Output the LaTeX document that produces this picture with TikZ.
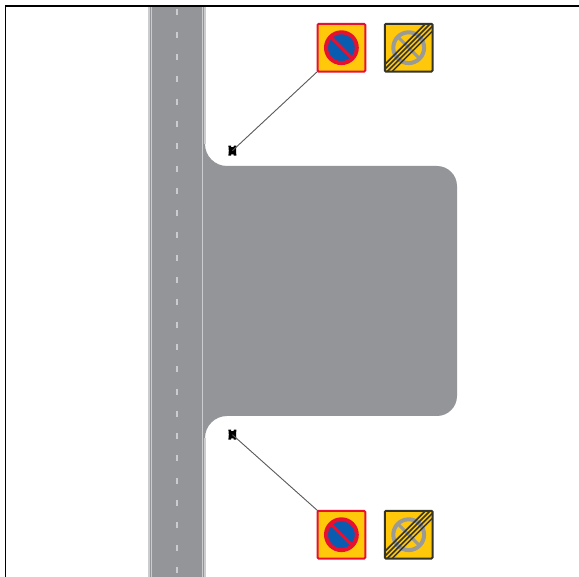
\documentclass[tikz,border=0pt]{standalone}
\definecolor{roadgrey}{HTML}{939598}
\definecolor{edgegrey}{HTML}{CBCCCE}
\definecolor{signyellow}{HTML}{FFC80A}
\definecolor{signred}{HTML}{E8102F}
\definecolor{signblue}{HTML}{0A5CB0}
\definecolor{signdark}{HTML}{34342A}
\definecolor{ringgrey}{HTML}{9A9A96}
\tikzset{
  parksign/.pic={
    \draw[signred,line width=2,fill=signyellow,rounded corners=1.2] (-23.9,-23.9) rectangle (23.9,23.9);
    \draw[signred,line width=4,fill=signblue] (0,0) circle (15.4);
    \draw[signred,line width=3] (-10.7,-10.7) -- (10.7,10.7);
  },
  endsign/.pic={
    \draw[signdark,line width=2,fill=signyellow,rounded corners=1.2] (-23.9,-23.9) rectangle (23.9,23.9);
    \draw[ringgrey,line width=4] (0,0) circle (15.4);
    \draw[ringgrey,line width=3] (-10.7,-10.7) -- (10.7,10.7);
    \begin{scope}
      \clip (-24,-24) rectangle (24,24);
      \foreach \d in {-3.6,-1.2,1.2,3.6}
        \draw[signdark,line width=1.5] (-24+\d,24+\d) -- (24+\d,-24+\d);
    \end{scope}
  },
  postmark/.pic={
    \fill[black] (-4,-5) -- (-1.4,-5) -- (-1.2,-3.6) -- (1.2,-3.6) -- (1.4,-5) -- (4,-5) -- (3.6,0) -- (4,5) -- (1.4,5) -- (1.2,3.6) -- (-1.2,3.6) -- (-1.4,5) -- (-4,5) -- (-3.6,0) -- cycle;
  },
  framerule/.style={black,line cap=butt},
  connector/.style={draw=black!65,line width=0.9},
  dashmark/.style={edgegrey,line width=1.4}
}
\begin{document}
\begin{tikzpicture}[x=1pt,y=-1pt]
\useasboundingbox (0,0) rectangle (579,577);
\fill[white] (0,0) rectangle (579,577);
% paved area
\fill[roadgrey] (149,6) -- (205,6) -- (205,144) .. controls (205,156.15) and (214.85,166) .. (227,166)
  -- (437,166) .. controls (448,166) and (457,175) .. (457,186)
  -- (457,396) .. controls (457,407) and (448,416) .. (437,416)
  -- (227,416) .. controls (214.85,416) and (205,425.85) .. (205,438)
  -- (205,577) -- (149,577) -- cycle;
% edge lines
\draw[edgegrey,line width=1.4] (148.8,6) -- (148.8,577);
\draw[edgegrey,line width=1.4] (151.7,6) -- (151.7,577);
\draw[edgegrey,line width=1.4] (205,6) -- (205,144);
\draw[edgegrey,line width=1.4] (205,438) -- (205,577);
\draw[edgegrey,line width=1.4] (202.2,6) -- (202.2,577);
\foreach \i in {0,...,25}
  \draw[dashmark] (177,{9.5+22.3*\i}) -- (177,{15.5+22.3*\i});
% frame
\draw[framerule,line width=1.8] (5,6) -- (579,6);
\draw[framerule,line width=1] (5.5,6) -- (5.5,577);
% signs
\path (341.4,47.7) pic {parksign};
\path (408.7,47.7) pic {endsign};
\path (341.4,534.7) pic {parksign};
\path (408.7,534.7) pic {endsign};
% posts and connectors
\path (232.4,150.7) pic {postmark};
\path (232.4,434.7) pic {postmark};
\coordinate (ptop) at (232.4,150.7);
\coordinate (pbot) at (232.4,434.7);
\coordinate (stop) at (318,71);
\coordinate (sbot) at (318,511);
\draw[connector] (ptop) -- (stop);
\draw[connector] (pbot) -- (sbot);
\end{tikzpicture}
\end{document}
